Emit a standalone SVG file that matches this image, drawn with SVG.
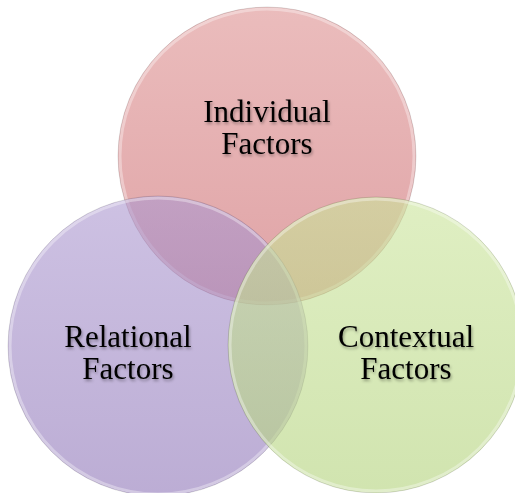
<svg xmlns="http://www.w3.org/2000/svg" width="515" height="493" viewBox="0 0 515 493">
<style>
  .lbl { font-family: "Liberation Serif", "Times New Roman", serif; font-size: 31px; fill: #000; text-anchor: middle; filter: url(#tshadow); }
  .rim { fill: none; stroke: #ffffff; stroke-opacity: 0.35; stroke-width: 3; }
  .edge { fill: none; stroke: #000; stroke-opacity: 0.12; stroke-width: 1; }
</style>
<defs>
  <linearGradient id="gRed" x1="0" y1="0" x2="0" y2="1">
    <stop offset="0" stop-color="#E2A0A0"/>
    <stop offset="1" stop-color="#D27C80"/>
  </linearGradient>
  <linearGradient id="gPurple" x1="0" y1="0" x2="0" y2="1">
    <stop offset="0" stop-color="#AC98D0"/>
    <stop offset="1" stop-color="#8F76B8"/>
  </linearGradient>
  <linearGradient id="gGreen" x1="0" y1="0" x2="0" y2="1">
    <stop offset="0" stop-color="#CAE49A"/>
    <stop offset="1" stop-color="#B2D27A"/>
  </linearGradient>
  <filter id="tshadow" x="-20%" y="-30%" width="140%" height="160%">
    <feGaussianBlur in="SourceAlpha" stdDeviation="1.6"/>
    <feOffset dx="1" dy="2" result="b"/>
    <feComponentTransfer><feFuncA type="linear" slope="0.35"/></feComponentTransfer>
    <feMerge><feMergeNode/><feMergeNode in="SourceGraphic"/></feMerge>
  </filter>
</defs>
<g id="individual">
  <circle cx="267" cy="156" r="149" fill="url(#gRed)" fill-opacity="0.7"/>
  <circle cx="267" cy="156" r="147" class="rim"/>
  <circle cx="267" cy="156" r="149" class="edge"/>
</g>
<g id="relational">
  <circle cx="158" cy="346" r="150" fill="url(#gPurple)" fill-opacity="0.6"/>
  <circle cx="158" cy="346" r="148" class="rim"/>
  <circle cx="158" cy="346" r="150" class="edge"/>
</g>
<g id="contextual">
  <circle cx="376" cy="345" r="148" fill="url(#gGreen)" fill-opacity="0.6"/>
  <circle cx="376" cy="345" r="146" class="rim"/>
  <circle cx="376" cy="345" r="148" class="edge"/>
</g>
<g id="labels">
  <text class="lbl" x="267" y="122">Individual</text>
  <text class="lbl" x="267" y="154">Factors</text>
  <text class="lbl" x="128" y="347">Relational</text>
  <text class="lbl" x="128" y="379">Factors</text>
  <text class="lbl" x="406" y="347">Contextual</text>
  <text class="lbl" x="406" y="379">Factors</text>
</g>
<g id="connectors"/>
</svg>
